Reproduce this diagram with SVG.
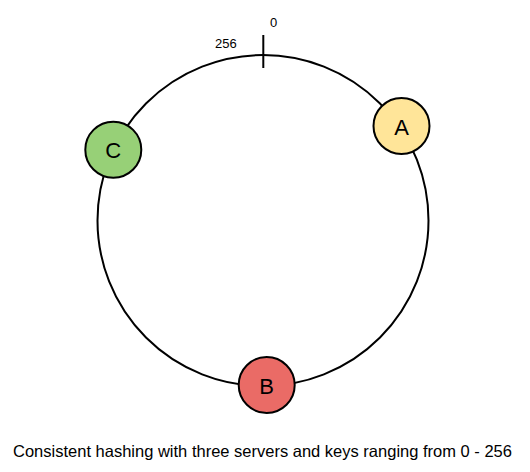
<svg xmlns="http://www.w3.org/2000/svg" width="530" height="472" viewBox="0 0 530 472">
<style>
.ring{fill:none;stroke:#000;stroke-width:2}
.node{stroke:#000;stroke-width:2}
.lbl{font-family:"Liberation Sans",Arial,sans-serif;font-size:22px;fill:#000;text-anchor:middle;dominant-baseline:central}
.small{font-family:"Liberation Sans",Arial,sans-serif;font-size:13px;fill:#000}
.cap{font-family:"Liberation Sans",Arial,sans-serif;font-size:16.5px;fill:#000;text-anchor:middle}
</style>
<rect width="530" height="472" fill="#fff"/>
<g id="connectors">
<circle class="ring" cx="263" cy="220.5" r="165.5"/>
<line x1="263.3" y1="35" x2="263.3" y2="68" stroke="#000" stroke-width="2"/>
</g>
<g id="label-0"><text class="small" x="270" y="27">0</text></g>
<g id="label-256"><text class="small" x="215" y="48">256</text></g>
<g id="node-A"><circle class="node" cx="401.5" cy="126" r="28" fill="#ffe599"/><text class="lbl" x="401.5" y="127">A</text></g>
<g id="node-C"><circle class="node" cx="113.3" cy="149.7" r="28" fill="#97d077"/><text class="lbl" x="113.3" y="150.7">C</text></g>
<g id="node-B"><circle class="node" cx="266.7" cy="385" r="28" fill="#ea6b66"/><text class="lbl" x="266.7" y="386">B</text></g>
<g id="caption"><text class="cap" x="262.5" y="457">Consistent hashing with three servers and keys ranging from 0 - 256</text></g>
</svg>
